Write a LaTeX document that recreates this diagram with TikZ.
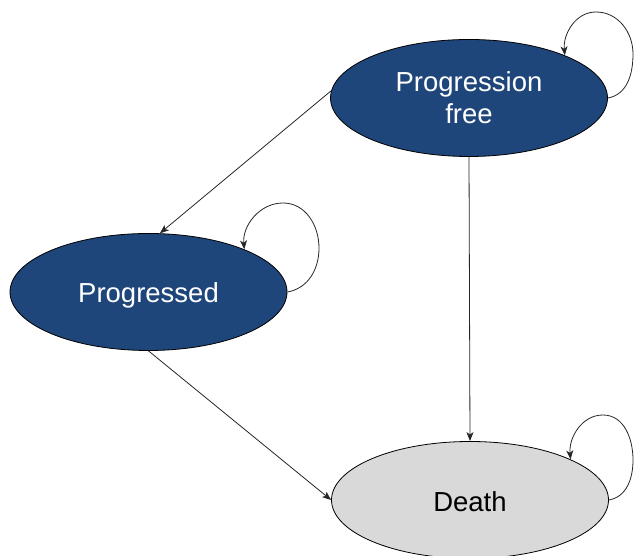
\documentclass[tikz,border=0pt]{standalone}
\usepackage{fontspec}
\setmainfont{Liberation Sans}
\usetikzlibrary{shapes.geometric,arrows.meta}
\definecolor{navy}{RGB}{31,70,122}
\definecolor{lgray}{RGB}{217,217,217}
\begin{document}
\begin{tikzpicture}[x=1pt,y=1pt,
  state/.style={ellipse,draw=black,line width=0.8pt,inner sep=0pt,minimum width=277pt,minimum height=117pt,
    font=\fontsize{27.5}{32}\selectfont,align=center},
  blue/.style={state,fill=navy,text=white},
  grey/.style={state,fill=lgray,text=black},
  arr/.style={draw=black!85,line width=0.8pt,-{Stealth[length=9pt,width=7pt,inset=2.5pt]}}]
\useasboundingbox (0,0) rectangle (634,556);
\node[blue] (pf) at (469,458) {Progression\\free};
\node[blue] (pd) at (148.5,264) {\raisebox{-4pt}[20pt][6pt]{Progressed}};
\node[grey] (de) at (470,56) {\raisebox{-2.5pt}[20pt][1pt]{Death}};
\coordinate (pfa) at (633,502);
\coordinate (pfb) at (596,544);
\coordinate (pda) at (319,308);
\coordinate (pdb) at (283,353);
\coordinate (dea) at (633,96);
\coordinate (deb) at (603,141);
\draw[arr] (pf.177) -- (pd.79);
\draw[arr] (pf.south) -- (de.north);
\draw[arr] (pd.south) -- (de.west);
\draw[arr] (pf.east) to[out=10,in=-90] (pfa) to[out=90,in=0] (pfb) to[out=180,in=95] (pf.24);
\draw[arr] (pd.east) to[out=10,in=-90] (pda) to[out=90,in=0] (pdb) to[out=180,in=95] (pd.24);
\draw[arr] (de.east) to[out=10,in=-90] (dea) to[out=90,in=0] (deb) to[out=180,in=95] (de.22);
\end{tikzpicture}
\end{document}
